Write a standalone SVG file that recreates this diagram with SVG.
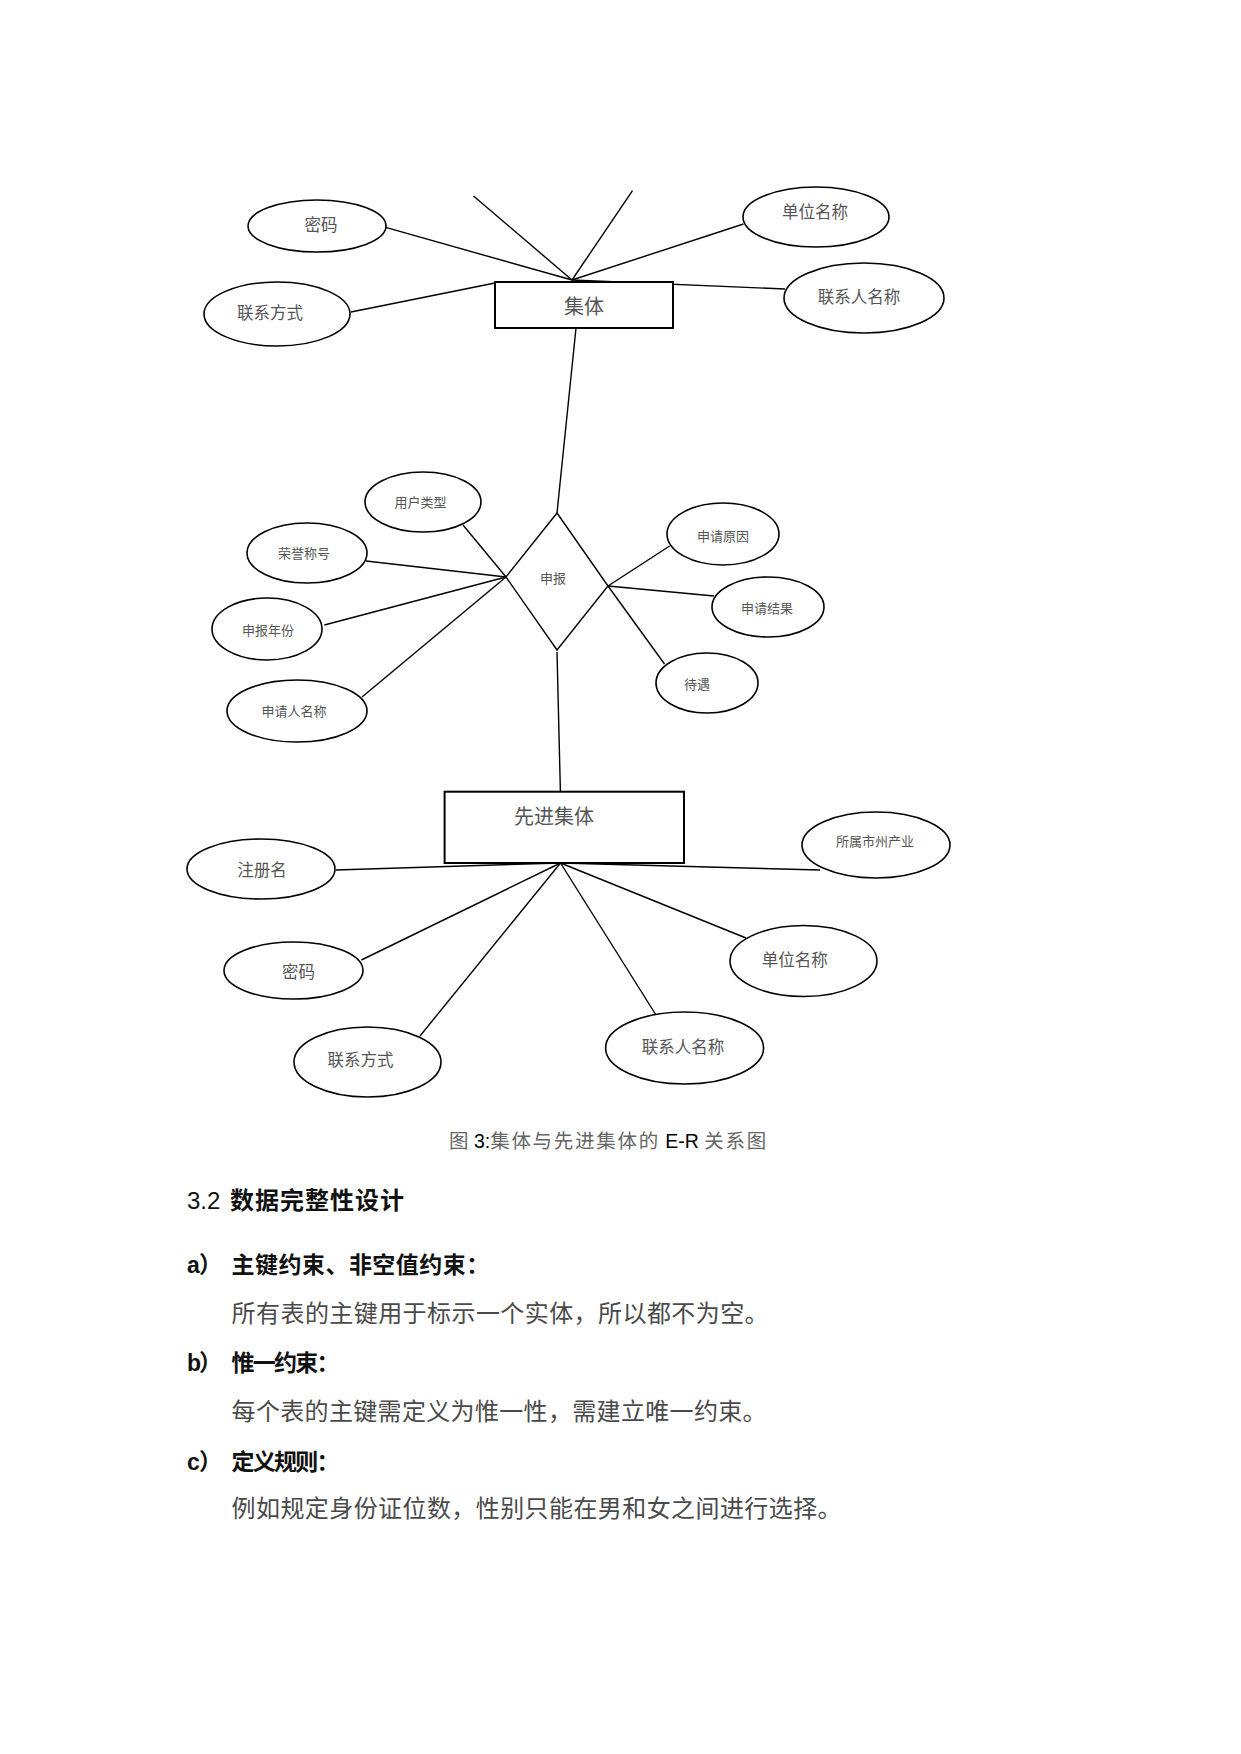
<svg xmlns="http://www.w3.org/2000/svg" width="1241" height="1754" viewBox="0 0 1241 1754">
<style>
.bg{fill:#fff}
.e{fill:#fff;stroke:#000;stroke-width:1.6}
.r{fill:#fff;stroke:#000;stroke-width:2}
.d{fill:#fff;stroke:#000;stroke-width:1.4}
.c line{stroke:#000;stroke-width:1.4}
.lb{font-family:"Liberation Serif","Noto Sans CJK SC",serif;fill:#555;text-anchor:middle}
.s13{font-size:13px}
.s16{font-size:16.5px}
.s20{font-size:20px}
.cap{font-family:"Liberation Sans","Noto Sans CJK SC",sans-serif;font-size:19.5px;fill:#666}
.h{font-family:"Liberation Sans","Noto Sans CJK SC",sans-serif;font-weight:bold;fill:#111}
.b{font-family:"Liberation Serif","Noto Sans CJK SC",serif;font-size:24px;fill:#4a4a4a}
</style>
<rect class="bg" x="0" y="0" width="1241" height="1754"/>
<g id="connectors" class="c">
<line x1="473.5" y1="196" x2="572" y2="280"/>
<line x1="632.5" y1="190.7" x2="572" y2="280"/>
<line x1="383" y1="226.7" x2="572" y2="280"/>
<line x1="743.5" y1="224" x2="572" y2="280"/>
<line x1="572" y1="280" x2="785" y2="289"/>
<line x1="351" y1="312" x2="495" y2="283"/>
<line x1="576" y1="328" x2="557" y2="513"/>
<line x1="463" y1="525" x2="506" y2="577"/>
<line x1="366" y1="561" x2="506" y2="577"/>
<line x1="324.4" y1="625" x2="506" y2="577"/>
<line x1="362" y1="697" x2="506" y2="577"/>
<line x1="669.6" y1="546" x2="608" y2="586"/>
<line x1="608" y1="586" x2="714" y2="596"/>
<line x1="608" y1="586" x2="664.5" y2="664"/>
<line x1="557" y1="652" x2="560.4" y2="791.7"/>
<line x1="336" y1="870" x2="560.5" y2="863"/>
<line x1="560.5" y1="863" x2="820" y2="870"/>
<line x1="361.4" y1="960" x2="560.5" y2="863"/>
<line x1="420" y1="1036" x2="560.5" y2="863"/>
<line x1="656" y1="1015" x2="560.5" y2="863"/>
<line x1="746" y1="938" x2="560.5" y2="863"/>
</g>
<g id="jiti">
<rect class="r" x="495" y="282" width="178" height="46"/>
<text class="lb s20" x="584" y="313.7">集体</text>
</g>
<g id="attr-mima-1">
<ellipse class="e" cx="317" cy="226" rx="69" ry="26"/>
<text class="lb s16" x="321" y="230.6">密码</text>
</g>
<g id="attr-danwei-1">
<ellipse class="e" cx="816" cy="217" rx="73" ry="30"/>
<text class="lb s16" x="815" y="217.6">单位名称</text>
</g>
<g id="attr-lianxiren-1">
<ellipse class="e" cx="864" cy="298" rx="80" ry="35"/>
<text class="lb s16" x="859" y="302.6">联系人名称</text>
</g>
<g id="attr-lianxi-1">
<ellipse class="e" cx="277" cy="314" rx="73" ry="32"/>
<text class="lb s16" x="270" y="318.6">联系方式</text>
</g>
<g id="shenbao">
<polygon class="d" points="557,513 608,586 557,650 506,577"/>
<text class="lb s13" x="553" y="582.5">申报</text>
</g>
<g id="attr-yonghu">
<ellipse class="e" cx="423" cy="502" rx="58" ry="30"/>
<text class="lb s13" x="420.5" y="507">用户类型</text>
</g>
<g id="attr-rongyu">
<ellipse class="e" cx="307" cy="553" rx="60" ry="30"/>
<text class="lb s13" x="304" y="557.5">荣誉称号</text>
</g>
<g id="attr-nianfen">
<ellipse class="e" cx="267" cy="629" rx="55" ry="31"/>
<text class="lb s13" x="268" y="634.5">申报年份</text>
</g>
<g id="attr-shenqingren">
<ellipse class="e" cx="297" cy="711" rx="70" ry="31"/>
<text class="lb s13" x="294" y="716">申请人名称</text>
</g>
<g id="attr-yuanyin">
<ellipse class="e" cx="723" cy="534" rx="56" ry="31"/>
<text class="lb s13" x="723" y="540.5">申请原因</text>
</g>
<g id="attr-jieguo">
<ellipse class="e" cx="768" cy="607" rx="56" ry="30"/>
<text class="lb s13" x="767" y="612.5">申请结果</text>
</g>
<g id="attr-daiyu">
<ellipse class="e" cx="707" cy="683" rx="51" ry="30"/>
<text class="lb s13" x="697" y="688.5">待遇</text>
</g>
<g id="xianjinjiti">
<rect class="r" x="444.6" y="791.7" width="239.4" height="71.3"/>
<text class="lb s20" x="554" y="823.7">先进集体</text>
</g>
<g id="attr-zhuce">
<ellipse class="e" cx="261" cy="869" rx="74" ry="30"/>
<text class="lb s16" x="262" y="875.8">注册名</text>
</g>
<g id="attr-suoshu">
<ellipse class="e" cx="876" cy="845" rx="74" ry="33"/>
<text class="lb s13" x="875" y="846">所属市州产业</text>
</g>
<g id="attr-mima-2">
<ellipse class="e" cx="293.5" cy="970.5" rx="69.5" ry="28.5"/>
<text class="lb s16" x="298.5" y="977.5">密码</text>
</g>
<g id="attr-lianxi-2">
<ellipse class="e" cx="367.5" cy="1062" rx="73.5" ry="35"/>
<text class="lb s16" x="360.4" y="1065.8">联系方式</text>
</g>
<g id="attr-lianxiren-2">
<ellipse class="e" cx="684.6" cy="1048" rx="79" ry="36"/>
<text class="lb s16" x="683" y="1052.5">联系人名称</text>
</g>
<g id="attr-danwei-2">
<ellipse class="e" cx="803.5" cy="961" rx="73.5" ry="35.5"/>
<text class="lb s16" x="794.7" y="965.8">单位名称</text>
</g>
<text class="cap" x="449" y="1148">图 <tspan fill="#000">3:</tspan><tspan textLength="168" lengthAdjust="spacing">集体与先进集体的</tspan> <tspan fill="#000">E-R</tspan> <tspan textLength="62" lengthAdjust="spacing">关系图</tspan></text>
<text class="h" x="187" y="1209" font-size="24"><tspan font-weight="normal">3.2</tspan></text>
<text class="h" x="230" y="1209" font-size="24" textLength="174" lengthAdjust="spacing">数据完整性设计</text>
<text class="h" x="187" y="1273" font-size="23">a</text>
<text class="h" x="199" y="1273" font-size="23">）</text>
<text class="h" x="231.6" y="1273" font-size="23" textLength="257.6" lengthAdjust="spacing">主键约束、非空值约束：</text>
<text class="b" x="231.6" y="1322" textLength="537" lengthAdjust="spacing">所有表的主键用于标示一个实体，所以都不为空。</text>
<text class="h" x="187" y="1371" font-size="23">b</text>
<text class="h" x="199" y="1371" font-size="23">）</text>
<text class="h" x="231.6" y="1371" font-size="23" textLength="108" lengthAdjust="spacing">惟一约束：</text>
<text class="b" x="231.6" y="1420" textLength="535" lengthAdjust="spacing">每个表的主键需定义为惟一性，需建立唯一约束。</text>
<text class="h" x="187" y="1470" font-size="23">c</text>
<text class="h" x="199" y="1470" font-size="23">）</text>
<text class="h" x="231.6" y="1470" font-size="23" textLength="108" lengthAdjust="spacing">定义规则：</text>
<text class="b" x="231.6" y="1516.5" textLength="610" lengthAdjust="spacing">例如规定身份证位数，性别只能在男和女之间进行选择。</text>
</svg>
